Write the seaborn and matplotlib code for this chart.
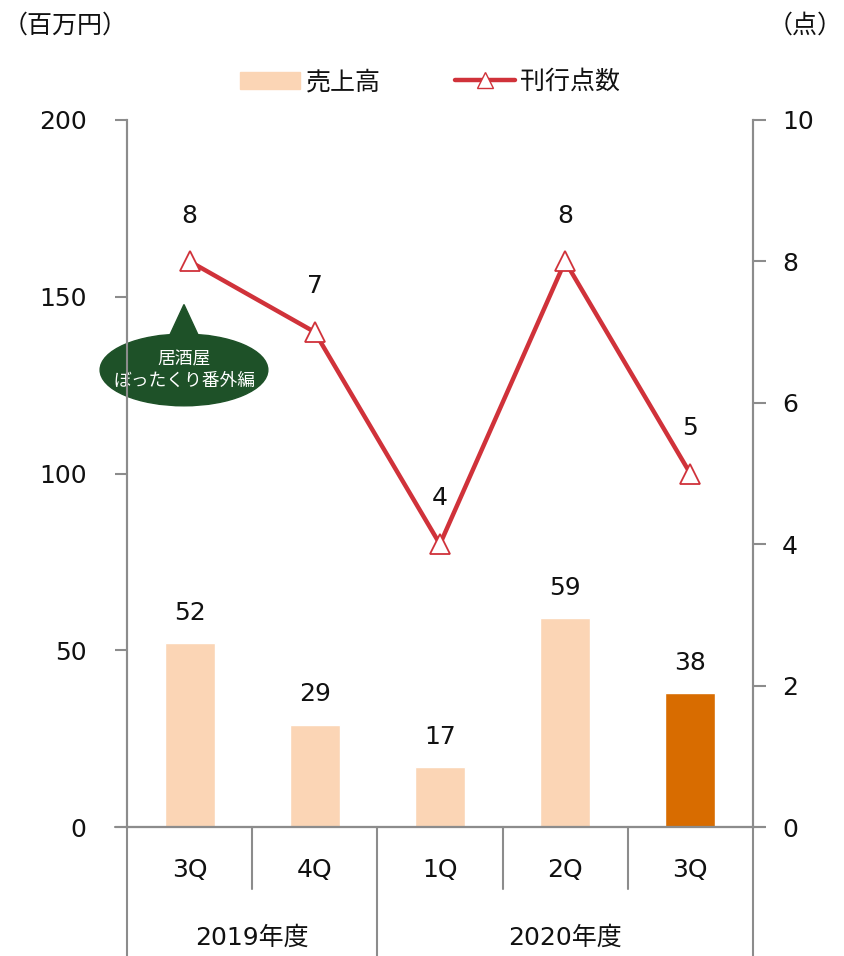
import numpy as np
import pandas as pd
import matplotlib
matplotlib.use('Agg')
import matplotlib.pyplot as plt
import matplotlib.patches as mpatches
from matplotlib.lines import Line2D
import seaborn as sns

# data
keys = ['2019-3Q', '2019-4Q', '2020-1Q', '2020-2Q', '2020-3Q']
quarters = ['3Q', '4Q', '1Q', '2Q', '3Q']
years = ['2019年度', '2020年度']
sales = [52, 29, 17, 59, 38]
titles = [8, 7, 4, 8, 5]
bar_colors = ['#FBD5B5', '#FBD5B5', '#FBD5B5', '#FBD5B5', '#D86C00']

sns.set_style('white')
plt.rcParams['font.family'] = ['DejaVu Sans', 'Noto Sans CJK JP']
plt.rcParams['text.color'] = '#111111'
plt.rcParams['ytick.labelcolor'] = '#111111'

gray = '#8C8C8C'
red = '#D0323A'
fs = 18

df = pd.DataFrame({'key': keys, 'sales': sales, 'pos': range(len(keys)), 'titles': titles})

fig = plt.figure(figsize=(8.44, 9.56), dpi=100)
ax = fig.add_axes([0.1505, 0.1349, 0.7415, 0.7396])

sns.barplot(data=df, x='key', y='sales', hue='key', palette=bar_colors, legend=False,
            width=0.4, ax=ax, saturation=1)
for c in ax.containers:
    ax.bar_label(c, padding=13, fontsize=fs, color='#111111')

ax.set_xlim(-0.5, 4.5)
ax.set_ylim(0, 200)
ax.set_yticks([0, 50, 100, 150, 200])
ax.set_xticks([])
ax.set_xlabel('')
ax.set_ylabel('')
for s in ['left', 'right', 'bottom']:
    ax.spines[s].set_color(gray)
    ax.spines[s].set_linewidth(1.5)
ax.spines['top'].set_visible(False)
ax.tick_params(axis='y', which='both', left=True, direction='out', length=9, width=1.5,
               color=gray, labelsize=fs, pad=20, labelcolor='#111111')

ax2 = ax.twinx()
sns.lineplot(data=df, x='pos', y='titles', ax=ax2, color=red, linewidth=3.2,
             marker='^', markersize=15, markerfacecolor='white', markeredgecolor=red,
             markeredgewidth=1.3)
ax2.set_ylim(0, 10)
ax2.set_yticks([0, 2, 4, 6, 8, 10])
ax2.set_ylabel('')
ax2.set_xlabel('')
ax2.set_xlim(-0.5, 4.5)
ax2.set_xticks([])
for s in ['left', 'right', 'bottom']:
    ax2.spines[s].set_color(gray)
    ax2.spines[s].set_linewidth(1.5)
ax2.spines['top'].set_visible(False)
ax2.tick_params(axis='y', right=True, direction='out', length=9, width=1.5,
                color=gray, labelsize=fs, pad=12, labelcolor='#111111')
for i, v in enumerate(titles):
    ax2.annotate(str(v), (i, v), xytext=(0, 33), textcoords='offset points',
                 ha='center', va='center', fontsize=fs)

# category axis below plot
trans = ax.get_xaxis_transform()
for b in [0.5, 2.5, 3.5]:
    ax.plot([b, b], [0, -0.087], transform=trans, color=gray, lw=1.5, clip_on=False)
for b in [-0.5, 1.5, 4.5]:
    ax.plot([b, b], [0, -0.19], transform=trans, color=gray, lw=1.5, clip_on=False)
ax.plot([-0.6, 4.6], [0, 0], transform=trans, color=gray, lw=1.5, clip_on=False)
for i, q in enumerate(quarters):
    ax.text(i, -0.061, q, transform=trans, ha='center', va='center', fontsize=fs)
ax.text(0.5, -0.157, years[0], transform=trans, ha='center', va='center', fontsize=fs)
ax.text(3.0, -0.157, years[1], transform=trans, ha='center', va='center', fontsize=fs)

# callout
green = '#1E5128'
ell = mpatches.Ellipse((-0.045, 129.3), 1.34, 20.3, color=green, zorder=5, clip_on=False)
ax.add_patch(ell)
tri = mpatches.Polygon([[-0.045, 147.8], [-0.18, 137.5], [0.09, 137.5]], closed=True,
                       color=green, zorder=5, clip_on=False)
ax.add_patch(tri)
ax.text(-0.045, 129.3, '居酒屋\nぼったくり番外編', ha='center', va='center', color='white',
        fontsize=12.8, linespacing=1.25, zorder=6, family=['Noto Sans CJK JP'])

# legend
handles = [mpatches.Patch(color='#FBD5B5', label='売上高'),
           Line2D([0], [0], color=red, lw=3.2, marker='^', markersize=12,
                  markerfacecolor='white', markeredgecolor=red, label='刊行点数')]
fig.legend(handles=handles, loc='center', bbox_to_anchor=(0.51, 0.914), ncol=2,
           frameon=False, fontsize=fs, handlelength=2.4, columnspacing=3.0,
           handletextpad=0.2, prop={'family': ['Noto Sans CJK JP'], 'size': fs})

fig.text(0.003, 0.973, '（百万円）', ha='left', va='center', fontsize=fs,
         family=['Noto Sans CJK JP'])
fig.text(0.998, 0.973, '（点）', ha='right', va='center', fontsize=fs,
         family=['Noto Sans CJK JP'])

fig.savefig('out.png', dpi=100)
